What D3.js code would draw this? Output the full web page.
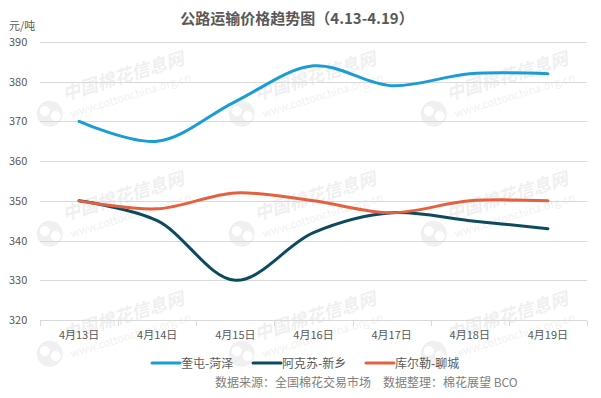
<html lang="zh">
<head>
<meta charset="utf-8">
<title>公路运输价格趋势图</title>
<style>
  body { margin: 0; padding: 0; background: #fff; }
  svg { display: block; font-family: "Noto Sans CJK SC", "Microsoft YaHei", sans-serif; }
  .grid line { stroke: #d9d9d9; stroke-width: 1; shape-rendering: crispEdges; }
  .tick-label { font-size: 11px; fill: #595959; }
  .wm { fill: #000; opacity: 0.06; }
</style>
</head>
<body>
<div id="chart"></div>
<script src="https://d3js.org/d3.v7.min.js"></script>
<script>
// data
var dates = ["4月13日", "4月14日", "4月15日", "4月16日", "4月17日", "4月18日", "4月19日"];
var kuitun = [370, 365, 375, 384, 379, 382, 382];     // 奎屯-菏泽
var akesu = [350, 345, 330, 342, 347, 345, 343];      // 阿克苏-新乡
var kuerle = [350, 348, 352, 350, 347, 350, 350];     // 库尔勒-聊城
var seriesNames = ["奎屯-菏泽", "阿克苏-新乡", "库尔勒-聊城"];
var seriesColors = ["#1a9dd4", "#0c4a60", "#e5603f"];
var yTicks = [320, 330, 340, 350, 360, 370, 380, 390];

var width = 601, height = 398;
var margin = {left: 40, right: 14, top: 42, bottom: 78};

var svg = d3.select("#chart").append("svg")
    .attr("width", width)
    .attr("height", height);

var x = d3.scaleBand()
    .domain(dates)
    .range([margin.left, width - margin.right]);

var y = d3.scaleLinear()
    .domain([320, 390])
    .range([height - margin.bottom, margin.top]);

// watermark, behind everything
var wmG = svg.append("g");
[0, 1, 2].forEach(function(c){
  [0, 1, 2].forEach(function(r){
    var g = wmG.append("g")
      .attr("transform", "translate(" + (48 + c * 192) + "," + (108 + r * 120) + ") rotate(-17)");
    g.append("circle").attr("class", "wm").attr("cx", 0).attr("cy", 6).attr("r", 13);
    g.append("circle").attr("cx", -4).attr("cy", 2).attr("r", 5).attr("fill", "#fff");
    g.append("circle").attr("cx", 5).attr("cy", 10).attr("r", 5).attr("fill", "#fff");
    g.append("text").attr("class", "wm")
      .attr("x", 18).attr("y", -2)
      .style("font-size", "18px").style("font-weight", "bold").style("font-style", "italic")
      .text("中国棉花信息网");
    g.append("text").attr("class", "wm")
      .attr("x", 20).attr("y", 16)
      .style("font-size", "11px")
      .text("www.cottonchina.org.cn");
  });
});

// gridlines
svg.append("g").attr("class", "grid")
  .selectAll("line")
  .data(yTicks.filter(function(d){ return d > 320; }))
  .enter().append("line")
  .attr("x1", margin.left).attr("x2", width - margin.right)
  .attr("y1", function(d){ return Math.round(y(d)) + 0.5; })
  .attr("y2", function(d){ return Math.round(y(d)) + 0.5; });

// y labels
svg.append("g").selectAll("text")
  .data(yTicks)
  .enter().append("text")
  .attr("class", "tick-label")
  .attr("x", 9)
  .attr("y", function(d){ return y(d) + 4; })
  .text(function(d){ return d; });

svg.append("text")
  .attr("class", "tick-label")
  .attr("x", 9).attr("y", 30)
  .text("元/吨");

// x axis (category boundaries as ticks)
var xAxis = svg.append("g")
  .attr("transform", "translate(0," + (Math.round(y(320)) + 0.5) + ")");
xAxis.append("line")
  .attr("x1", margin.left).attr("x2", width - margin.right)
  .attr("stroke", "#d9d9d9").style("shape-rendering", "crispEdges");
var bounds = dates.map(function(d){ return x(d); }).concat([width - margin.right]);
xAxis.selectAll(".xt").data(bounds).enter().append("line")
  .attr("x1", function(d){ return Math.round(d) + 0.5; })
  .attr("x2", function(d){ return Math.round(d) + 0.5; })
  .attr("y1", 0).attr("y2", 5)
  .attr("stroke", "#d9d9d9").style("shape-rendering", "crispEdges");
xAxis.selectAll("text").data(dates).enter().append("text")
  .attr("class", "tick-label")
  .attr("x", function(d){ return x(d) + x.bandwidth() / 2; })
  .attr("y", 18)
  .attr("text-anchor", "middle")
  .text(function(d){ return d; });

// lines
var line = d3.line()
  .x(function(d, i){ return x(dates[i]) + x.bandwidth() / 2; })
  .y(function(d){ return y(d); })
  .curve(d3.curveCatmullRom.alpha(0.5));

[kuitun, akesu, kuerle].forEach(function(s, i){
  svg.append("path")
    .datum(s)
    .attr("d", line)
    .attr("fill", "none")
    .attr("stroke", seriesColors[i])
    .attr("stroke-width", 3)
    .attr("stroke-linecap", "round");
});

// title
svg.append("text")
  .attr("x", 297).attr("y", 24)
  .attr("text-anchor", "middle")
  .style("font-size", "15px").style("font-weight", "bold").attr("fill", "#595959")
  .text("公路运输价格趋势图（4.13-4.19）");

// legend
var legendX = [152, 253, 366];
var legend = svg.append("g");
seriesNames.forEach(function(n, i){
  legend.append("line")
    .attr("x1", legendX[i]).attr("x2", legendX[i] + 28)
    .attr("y1", 363).attr("y2", 363)
    .attr("stroke", seriesColors[i]).attr("stroke-width", 3)
    .attr("stroke-linecap", "round");
  legend.append("text")
    .attr("x", legendX[i] + 29).attr("y", 367.5)
    .style("font-size", "12px").attr("fill", "#595959")
    .text(n);
});

// source
svg.append("text")
  .attr("x", 215).attr("y", 387)
  .style("font-size", "12px").style("white-space", "pre").attr("fill", "#808080")
  .text("数据来源：全国棉花交易市场\u3000数据整理：棉花展望 BCO");
</script>
</body>
</html>
